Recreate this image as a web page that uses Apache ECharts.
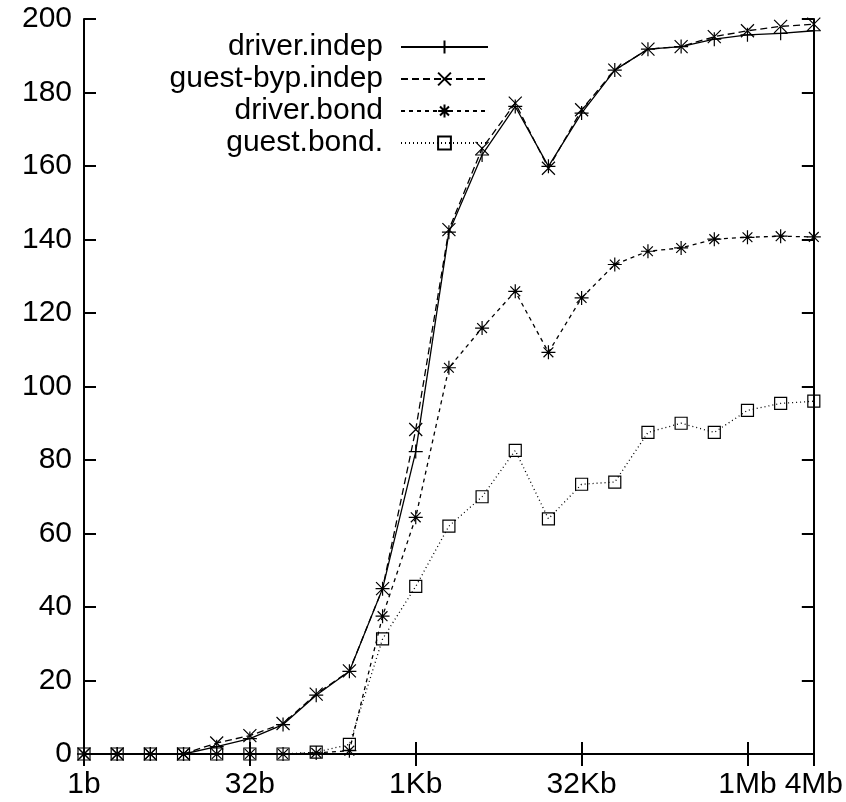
<!DOCTYPE html>
<html>
<head>
<meta charset="utf-8">
<script src="https://cdn.jsdelivr.net/npm/echarts@6/dist/echarts.min.js"></script>
<style>
  html, body { margin: 0; padding: 0; background: #fff; }
  #chart { width: 846px; height: 802px; }
</style>
</head>
<body>
<div id="chart"></div>
<script>
// message sizes, one point per power of two
const sizes = ['1b', '2b', '4b', '8b', '16b', '32b', '64b', '128b', '256b', '512b',
  '1Kb', '2Kb', '4Kb', '8Kb', '16Kb', '32Kb', '64Kb', '128Kb', '256Kb', '512Kb',
  '1Mb', '2Mb', '4Mb']
const labelledSizes = ['1b', '32b', '1Kb', '32Kb', '1Mb', '4Mb']

const driverIndep = [0, 0, 0, 0, 2, 4.2, 8, 16, 22.5, 45, 82.3, 142, 163, 176.2, 159.9, 174.4, 186.1, 191.8, 192.5, 194.5, 195.7, 196.1, 196.8]
const guestBypIndep = [0, 0, 0, 0, 3, 5, 8.3, 16.3, 22.6, 45, 88.3, 142.7, 164.8, 177.1, 159.4, 175.3, 186.1, 191.8, 192.5, 195.2, 196.8, 198, 198.6]
const driverBond = [0, 0, 0, 0, 0, 0, 0, 0.3, 0.9, 37.5, 64.4, 105.1, 115.9, 125.9, 109.3, 124.1, 133.2, 136.8, 137.7, 140.1, 140.6, 140.9, 140.7]
const guestBond = [0, 0, 0, 0, 0, 0, 0, 0.5, 2.6, 31.3, 45.6, 62, 70, 82.6, 64, 73.4, 74, 87.5, 90, 87.5, 93.5, 95.4, 96]

const FONT = '"Liberation Sans", Arial, Helvetica, sans-serif'

const PLUS = 'path://M0,5L10,5M5,0L5,10'
const CROSS = 'path://M0,0L10,10M10,0L0,10'
const STAR = 'path://M0,5L10,5M5,0L5,10M1.5,1.5L8.5,8.5M8.5,1.5L1.5,8.5'
const BOX = 'path://M0,0L10,0L10,10L0,10Z'

const showAt = (index, value) => labelledSizes.includes(value)

const frameLine = { show: true, lineStyle: { color: '#000', width: 2 } }
const innerTick = { show: true, inside: true, length: 12, lineStyle: { color: '#000', width: 2 } }

const makeXAxis = (position, showLabel) => ({
  type: 'category',
  position,
  data: sizes,
  boundaryGap: false,
  axisLine: frameLine,
  axisTick: { ...innerTick, interval: showAt },
  axisLabel: {
    show: showLabel,
    interval: showAt,
    color: '#000',
    fontSize: 30,
    fontFamily: FONT,
    margin: 16
  },
  splitLine: { show: false }
})

const makeYAxis = (position, showLabel) => ({
  type: 'value',
  position,
  min: 0,
  max: 200,
  interval: 20,
  axisLine: frameLine,
  axisTick: innerTick,
  axisLabel: {
    show: showLabel,
    color: '#000',
    fontSize: 30,
    fontFamily: FONT,
    margin: 12
  },
  splitLine: { show: false }
})

const makeSeries = (name, data, symbol, symbolSize, dash, fill) => ({
  name,
  type: 'line',
  data,
  symbol,
  symbolSize,
  showAllSymbol: true,
  itemStyle: { color: fill, borderColor: '#000', borderWidth: 1.2 },
  lineStyle: { color: '#000', width: 1.3, type: dash },
  emphasis: { disabled: true }
})

const chart = echarts.init(document.getElementById('chart'))

chart.setOption({
  backgroundColor: '#ffffff',
  animation: false,
  grid: { left: 84, right: 30, top: 19, bottom: 48 },
  xAxis: [makeXAxis('bottom', true), makeXAxis('top', false)],
  yAxis: [makeYAxis('left', true), makeYAxis('right', false)],
  legend: {
    orient: 'vertical',
    align: 'right',
    right: 357,
    top: 32,
    padding: 0,
    itemWidth: 87,
    itemHeight: 16,
    itemGap: 2,
    selectedMode: false,
    textStyle: {
      color: '#000',
      fontSize: 30,
      fontFamily: FONT,
      padding: [0, 13, 0, 0]
    },
    data: ['driver.indep', 'guest-byp.indep', 'driver.bond', 'guest.bond.']
  },
  series: [
    makeSeries('driver.indep', driverIndep, PLUS, 14, 'solid', '#000'),
    makeSeries('guest-byp.indep', guestBypIndep, CROSS, 13, [7, 4], '#000'),
    makeSeries('driver.bond', driverBond, STAR, 14, [4, 4], '#000'),
    makeSeries('guest.bond.', guestBond, BOX, 12, [1, 3], 'none')
  ]
})
</script>
</body>
</html>
